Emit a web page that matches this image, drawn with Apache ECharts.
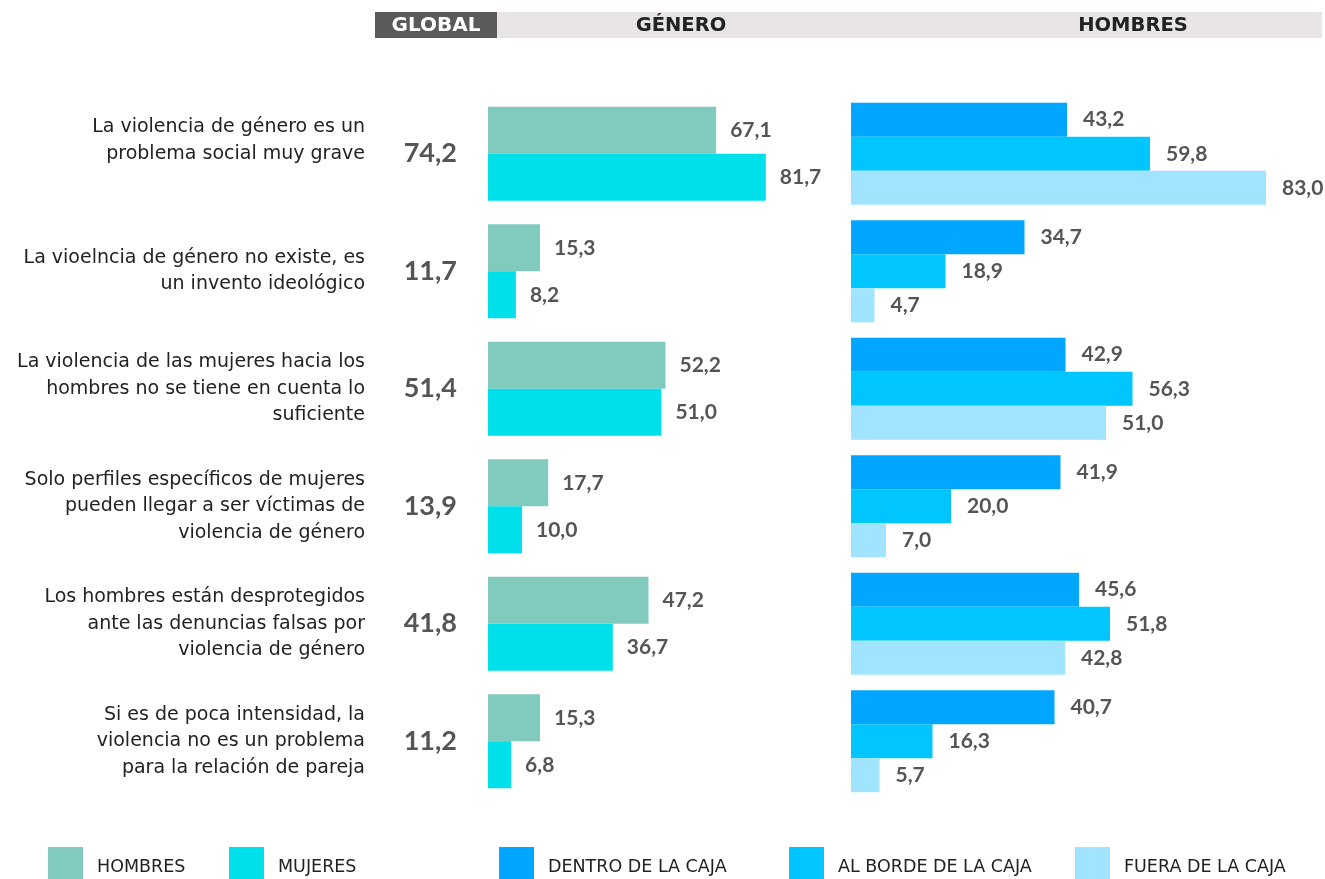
<!DOCTYPE html>
<html>
<head>
<meta charset="utf-8">
<script src="https://cdn.jsdelivr.net/npm/echarts@6/dist/echarts.min.js"></script>
<style>
  html, body { margin: 0; padding: 0; background: #fff; }
  #chart { width: 1325px; height: 879px; }
</style>
</head>
<body>
<div id="chart"></div>
<script>
// statements (top to bottom)
const categories = [
  'La violencia de género es un\nproblema social muy grave',
  'La vioelncia de género no existe, es\nun invento ideológico',
  'La violencia de las mujeres hacia los\nhombres no se tiene en cuenta lo\nsuficiente',
  'Solo perfiles específicos de mujeres\npueden llegar a ser víctimas de\nviolencia de género',
  'Los hombres están desprotegidos\nante las denuncias falsas por\nviolencia de género',
  'Si es de poca intensidad, la\nviolencia no es un problema\npara la relación de pareja',
];
const globalValues = [74.2, 11.7, 51.4, 13.9, 41.8, 11.2];
// GÉNERO
const generoHombres = [67.1, 15.3, 52.2, 17.7, 47.2, 15.3];
const generoMujeres = [81.7, 8.2, 51.0, 10.0, 36.7, 6.8];
// HOMBRES
const dentroCaja = [43.2, 34.7, 42.9, 41.9, 45.6, 40.7];
const bordeCaja = [59.8, 18.9, 56.3, 20.0, 51.8, 16.3];
const fueraCaja = [83.0, 4.7, 51.0, 7.0, 42.8, 5.7];

const TEXT_FONT = 'DejaVu Sans';
const NUM_FONT = 'Lato';
const fmt = (v) => Number(v).toFixed(1).replace('.', ',');

const chart = echarts.init(document.getElementById('chart'));

const valueLabel = {
  show: true,
  position: 'right',
  distance: 14,
  formatter: (p) => fmt(p.value),
  color: '#555555',
  fontFamily: NUM_FONT,
  fontWeight: 'bold',
  fontSize: 21,
};

const hiddenValueAxis = (gridIndex, max) => ({
  type: 'value',
  gridIndex,
  min: 0,
  max,
  show: false,
});

function legendAt(name, left) {
  return {
    data: [name],
    left,
    top: 847,
    padding: 0,
    icon: 'rect',
    itemWidth: 35,
    itemHeight: 32,
    selectedMode: false,
    formatter: (n) => '{t|' + n + '}',
    textStyle: {
      rich: {
        t: {
          fontFamily: TEXT_FONT,
          fontSize: 17.5,
          color: '#222222',
          padding: [9, 0, 0, 9],
        },
      },
    },
  };
}

const option = {
  animation: false,
  grid: [
    { left: 488, top: 95, width: 340, height: 705 },
    { left: 851, top: 95, width: 450, height: 705 },
  ],
  xAxis: [hiddenValueAxis(0, 100), hiddenValueAxis(1, 90)],
  yAxis: [
    {
      type: 'category',
      gridIndex: 0,
      data: categories,
      inverse: true,
      axisLine: { show: false },
      axisTick: { show: false },
      axisLabel: {
        margin: 123,
        align: 'right',
        fontFamily: TEXT_FONT,
        fontSize: 19,
        lineHeight: 26.5,
        color: '#222222',
        // the first statement sits half a line higher in the original
        formatter: (v, i) => (i === 0 ? v + '\n' : v),
      },
    },
    {
      type: 'category',
      gridIndex: 0,
      position: 'left',
      data: globalValues.map(fmt),
      inverse: true,
      axisLine: { show: false },
      axisTick: { show: false },
      axisLabel: {
        margin: 31,
        align: 'right',
        fontFamily: NUM_FONT,
        fontSize: 27,
        fontWeight: 'bold',
        color: '#555555',
      },
    },
    {
      type: 'category',
      gridIndex: 1,
      data: categories,
      inverse: true,
      show: false,
    },
  ],
  legend: [
    legendAt('HOMBRES', 48),
    legendAt('MUJERES', 229),
    legendAt('DENTRO DE LA CAJA', 499),
    legendAt('AL BORDE DE LA CAJA', 789),
    legendAt('FUERA DE LA CAJA', 1075),
  ],
  series: [
    {
      name: 'HOMBRES', type: 'bar', xAxisIndex: 0, yAxisIndex: 0,
      data: generoHombres, itemStyle: { color: '#80CBBD' },
      barGap: '0%', barCategoryGap: '20%', label: valueLabel,
    },
    {
      name: 'MUJERES', type: 'bar', xAxisIndex: 0, yAxisIndex: 0,
      data: generoMujeres, itemStyle: { color: '#00E0EA' },
      barGap: '0%', barCategoryGap: '20%', label: valueLabel,
    },
    {
      name: 'DENTRO DE LA CAJA', type: 'bar', xAxisIndex: 1, yAxisIndex: 2,
      data: dentroCaja, itemStyle: { color: '#00A6FF' },
      barGap: '0%', barCategoryGap: '13%', label: { ...valueLabel, distance: 16 },
    },
    {
      name: 'AL BORDE DE LA CAJA', type: 'bar', xAxisIndex: 1, yAxisIndex: 2,
      data: bordeCaja, itemStyle: { color: '#00C5FF' },
      barGap: '0%', barCategoryGap: '13%', label: { ...valueLabel, distance: 16 },
    },
    {
      name: 'FUERA DE LA CAJA', type: 'bar', xAxisIndex: 1, yAxisIndex: 2,
      data: fueraCaja, itemStyle: { color: '#A0E4FF' },
      barGap: '0%', barCategoryGap: '13%', label: { ...valueLabel, distance: 16 },
    },
  ],
  graphic: [
    // header band
    { type: 'rect', shape: { x: 497, y: 12, width: 825, height: 26 }, style: { fill: '#E8E5E4' } },
    { type: 'rect', shape: { x: 375, y: 12, width: 122, height: 26 }, style: { fill: '#5A5A5A' } },
    {
      type: 'text', x: 436, y: 26,
      style: { text: 'GLOBAL', fill: '#ffffff', font: 'bold 20px ' + TEXT_FONT, align: 'center', verticalAlign: 'middle' },
    },
    {
      type: 'text', x: 681, y: 26,
      style: { text: 'GÉNERO', fill: '#222222', font: 'bold 19.5px ' + TEXT_FONT, align: 'center', verticalAlign: 'middle' },
    },
    {
      type: 'text', x: 1133, y: 26,
      style: { text: 'HOMBRES', fill: '#222222', font: 'bold 19.5px ' + TEXT_FONT, align: 'center', verticalAlign: 'middle' },
    },
  ],
};

chart.setOption(option);
</script>
</body>
</html>
